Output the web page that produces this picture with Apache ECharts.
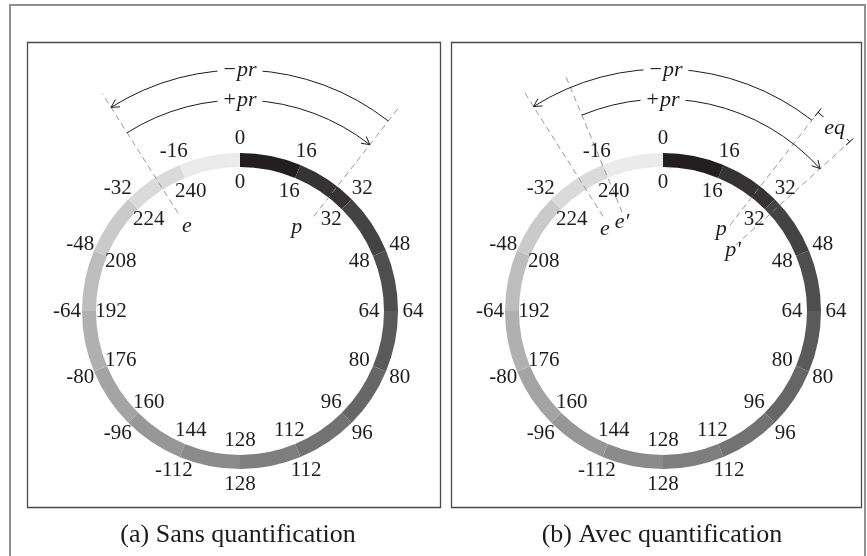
<!DOCTYPE html>
<html><head><meta charset="utf-8">
<script src="https://cdn.jsdelivr.net/npm/echarts@6/dist/echarts.min.js"></script>
<style>html,body{margin:0;padding:0;background:#fff}#c{width:867px;height:556px}</style>
</head><body><div id="c"></div>
<script>
// ---- data ----
const boundaries = [0,16,32,48,64,80,96,112,128,144,160,176,192,208,224,240];
const innerLabels = ['0','16','32','48','64','80','96','112','128','144','160','176','192','208','224','240'];
const outerLabels = ['0','16','32','48','64','80','96','112','128','-112','-96','-80','-64','-48','-32','-16'];
const segmentSizes = [16,16,16,16,16,16,16,16,16,16,16,16,16,16,16,16];
const segmentColors = ['#231f20','#353334','#434343','#4e4e4e','#5a5a5a','#666666','#727272','#7e7e7e',
                       '#8b8b8b','#979797','#a4a4a4','#b0b0b0','#bdbdbd','#cacaca','#dadada','#ebebec'];
// marker positions (same 0..256 scale as the ring)
const markE = 233, markP = 27, markEq = 240, markPq = 34;
// dashed radial lines: [value, r0, r1]
const dashesA = [[markE,116,257],[markP,120,258]];
const dashesB = [[markE,112,258],[markEq,107,257],[markP,109,258],[markPq,98,256]];
// arcs: [from, to, radius, arrow(1/0), ticks(1/0)]
const arcsA = [[markP, markE, 241, 1, 0],[markE, markP, 211, 1, 0]];
const arcsB = [[markP, markE, 242, 1, 0],[markEq, markPq, 212, 1, 0],[markP, markPq, 252, 0, 1]];
// math labels: [text, value, r]
const mathA = [['−pr',0,241],['+pr',0,211],['e',233.2,100],['p',24.3,101]];
const mathB = [['−pr',0.5,241],['+pr',0,211],['e',230.7,100],['e′',238.4,98],['p',25.3,100],['p′',34.8,93],['eq',30.7,251]];

const R_IN = 129, R_OUT = 173;
const NUM_FONT = '21px "Liberation Serif", "Times New Roman", serif';
const TXT = '#1d1b1c';

function ringLabelItem(labels){
  return function(params, api){
    const p = api.coord([api.value(0), api.value(1)]);
    return {type:'text', x:p[0], y:p[1], style:{text:labels[params.dataIndex], fill:TXT, font:NUM_FONT,
      align:'center', verticalAlign:'middle', textAlign:'center', textVerticalAlign:'middle'}};
  };
}
function dashItem(list){
  return function(params, api){
    const d = list[params.dataIndex];
    const a = api.coord([d[1], d[0]]), b = api.coord([d[2], d[0]]);
    return {type:'line', shape:{x1:a[0],y1:a[1],x2:b[0],y2:b[1]},
      style:{stroke:'#8c8c8c', lineWidth:0.9, lineDash:[6,4], fill:null}};
  };
}
function arcItem(list){
  return function(params, api){
    const d = list[params.dataIndex];
    const from = d[0], to = d[1], r = d[2];
    let diff = ((to - from) % 256 + 256) % 256;
    const dir = diff < 128 ? 1 : -1;   // 1 = clockwise
    const c = api.coord([0, 0]);
    const p0 = api.coord([r, from]), p1 = api.coord([r, to]);
    const rad = Math.hypot(p0[0]-c[0], p0[1]-c[1]);
    const a0 = Math.atan2(p0[1]-c[1], p0[0]-c[0]);
    const a1 = Math.atan2(p1[1]-c[1], p1[0]-c[0]);
    let s = dir === 1 ? a0 : a1, e = dir === 1 ? a1 : a0;
    while (e < s) e += Math.PI*2;
    const children = [{type:'arc', shape:{cx:c[0], cy:c[1], r:rad, startAngle:s, endAngle:e, clockwise:true},
      style:{stroke:'#1d1b1c', lineWidth:1, fill:null}}];
    if (d[3]) {
      const tx = -Math.sin(a1)*dir, ty = Math.cos(a1)*dir;
      const bx = -tx, by = -ty, L = 9, ang = 0.5;
      const b1 = [p1[0] + L*(bx*Math.cos(ang) - by*Math.sin(ang)), p1[1] + L*(bx*Math.sin(ang) + by*Math.cos(ang))];
      const b2 = [p1[0] + L*(bx*Math.cos(-ang) - by*Math.sin(-ang)), p1[1] + L*(bx*Math.sin(-ang) + by*Math.cos(-ang))];
      children.push({type:'polyline', shape:{points:[b1, p1, b2]}, style:{stroke:'#1d1b1c', lineWidth:1, fill:null}});
    }
    if (d[4]) {
      [from, to].forEach(v => {
        const q0 = api.coord([r-5, v]), q1 = api.coord([r+5, v]);
        children.push({type:'line', shape:{x1:q0[0],y1:q0[1],x2:q1[0],y2:q1[1]}, style:{stroke:'#1d1b1c', lineWidth:1}});
      });
    }
    return {type:'group', children};
  };
}
function mathItem(list){
  return function(params, api){
    const d = list[params.dataIndex];
    const p = api.coord([d[2], d[1]]);
    const txt = d[0];
    const it = '{i|' + txt.replace(/^[−+]/,'') + '}';
    const lead = txt.match(/^[−+]/) ? '{n|' + txt[0] + '}' : '';
    const big = d[2] > 200;
    return {type:'text', x:p[0], y:p[1], z2:10, style:{text: lead + it, fill:TXT,
      align:'center', verticalAlign:'middle', textAlign:'center', textVerticalAlign:'middle',
      backgroundColor: big ? '#fff' : null, padding: big ? [0,6,0,6] : 0,
      rich:{ i:{font:'italic 22px "Liberation Serif", "Times New Roman", serif', fill:TXT},
             n:{font:'22px "Liberation Serif", serif', fill:TXT, padding:[0,1,0,0]} }}};
  };
}

function panelSeries(idx, dashes, arcs, maths){
  return [
    {type:'custom', coordinateSystem:'polar', polarIndex:idx, renderItem:dashItem(dashes), z:3, silent:true,
     data:dashes.map(d=>[d[1], d[0]])},
    {type:'custom', coordinateSystem:'polar', polarIndex:idx, renderItem:arcItem(arcs), z:4, silent:true,
     data:arcs.map(d=>[d[2], d[0]])},
    {type:'custom', coordinateSystem:'polar', polarIndex:idx, renderItem:ringLabelItem(innerLabels), z:5, silent:true,
     data:boundaries.map(b=>[R_IN, b])},
    {type:'custom', coordinateSystem:'polar', polarIndex:idx, renderItem:ringLabelItem(outerLabels), z:5, silent:true,
     data:boundaries.map(b=>[R_OUT, b])},
    {type:'custom', coordinateSystem:'polar', polarIndex:idx, renderItem:mathItem(maths), z:6, silent:true,
     data:maths.map(d=>[d[2], d[1]])}
  ];
}
function ring(center){
  return {type:'pie', center:center, radius:[144,158], startAngle:90, clockwise:true, silent:true,
    label:{show:false}, labelLine:{show:false}, itemStyle:{borderWidth:0}, z:2,
    emphasis:{disabled:true},
    data:segmentSizes.map((v,i)=>({value:v, itemStyle:{color:segmentColors[i], borderWidth:0}}))};
}

const chart = echarts.init(document.getElementById('c'), null, {renderer:'canvas'});
chart.setOption({
  animation:false,
  backgroundColor:'#fff',
  polar:[{center:[240,311], radius:300},{center:[663,311], radius:300}],
  angleAxis:[
    {polarIndex:0, type:'value', min:0, max:256, startAngle:90, clockwise:true, show:false},
    {polarIndex:1, type:'value', min:0, max:256, startAngle:90, clockwise:true, show:false}],
  radiusAxis:[
    {polarIndex:0, type:'value', min:0, max:300, show:false},
    {polarIndex:1, type:'value', min:0, max:300, show:false}],
  graphic:[
    {type:'rect', shape:{x:10,y:5,width:855,height:600}, style:{fill:'none', stroke:'#8f8f8f', lineWidth:2}},
    {type:'rect', shape:{x:27.5,y:42.5,width:413,height:465}, style:{fill:'none', stroke:'#4a4a4a', lineWidth:1.3}},
    {type:'rect', shape:{x:451.5,y:42.5,width:410,height:465}, style:{fill:'none', stroke:'#4a4a4a', lineWidth:1.3}},
    {type:'text', x:238, y:535, style:{text:'(a) Sans quantification', font:'26px "Liberation Serif", "Times New Roman", serif',
      fill:TXT, align:'center', verticalAlign:'middle', textAlign:'center', textVerticalAlign:'middle'}},
    {type:'text', x:662, y:535, style:{text:'(b) Avec quantification', font:'26px "Liberation Serif", "Times New Roman", serif',
      fill:TXT, align:'center', verticalAlign:'middle', textAlign:'center', textVerticalAlign:'middle'}}
  ],
  series:[ring([240,311]), ring([663,311])]
    .concat(panelSeries(0, dashesA, arcsA, mathA))
    .concat(panelSeries(1, dashesB, arcsB, mathB))
});
</script></body></html>
